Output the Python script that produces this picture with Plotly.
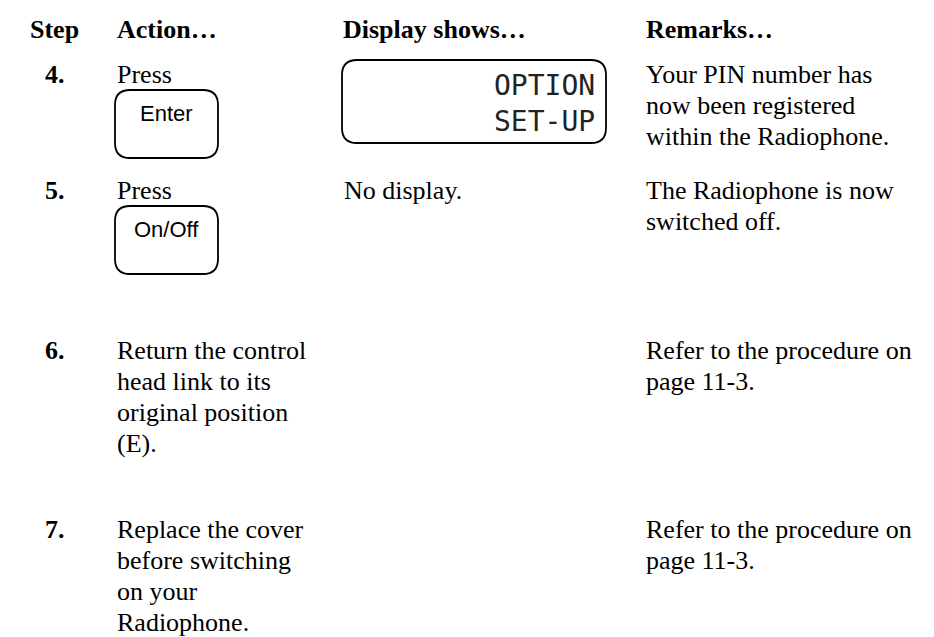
import plotly.graph_objects as go

W, H = 934, 637

# ---- content (data) ----
headers = ["Step", "Action\u2026", "Display shows\u2026", "Remarks\u2026"]
steps = ["4.", "5.", "6.", "7."]
actions = [
    ["Press"],
    ["Press"],
    ["Return the control", "head link to its", "original position", "(E)."],
    ["Replace the cover", "before switching", "on your", "Radiophone."],
]
buttons = ["Enter", "On/Off", None, None]
display_lcd = [["OPTION", "SET-UP"], None, None, None]
display_text = [None, ["No display."], None, None]
remarks = [
    ["Your PIN number has", "now been registered", "within the Radiophone."],
    ["The Radiophone is now", "switched off."],
    ["Refer to the procedure on", "page 11-3."],
    ["Refer to the procedure on", "page 11-3."],
]

# ---- layout constants ----
header_x = [20, 107, 333, 636]
col_x = [35, 107, 334, 636]
header_y = 21
row_y = [66, 182, 342, 521]
line_gap = 31.2
serif = "Liberation Serif, Times New Roman, serif"
sans = "Liberation Sans, Arial, sans-serif"
mono = "DejaVu Sans Mono, monospace"
fs = 26

fig = go.Figure()
ann = []
shapes = []


def rrect(x0, y0, x1, y1, r):
    return (f"M {x0+r},{y0} L {x1-r},{y0} Q {x1},{y0} {x1},{y0+r} "
            f"L {x1},{y1-r} Q {x1},{y1} {x1-r},{y1} L {x0+r},{y1} "
            f"Q {x0},{y1} {x0},{y1-r} L {x0},{y0+r} Q {x0},{y0} {x0+r},{y0} Z")


for hx, h in zip(header_x, headers):
    ann.append(dict(x=hx, y=header_y, text=f"<b>{h}</b>", xanchor="left", yanchor="middle",
                    font=dict(family=serif, size=fs, color="#000")))

for i, ry in enumerate(row_y):
    ann.append(dict(x=col_x[0], y=ry, text=f"<b>{steps[i]}</b>", xanchor="left", yanchor="middle",
                    font=dict(family=serif, size=fs, color="#000")))
    for k, line in enumerate(actions[i]):
        ann.append(dict(x=col_x[1], y=ry + k * line_gap, text=line, xanchor="left", yanchor="middle",
                        font=dict(family=serif, size=fs, color="#000")))
    for k, line in enumerate(remarks[i]):
        ann.append(dict(x=col_x[3], y=ry + k * line_gap, text=line, xanchor="left", yanchor="middle",
                        font=dict(family=serif, size=fs, color="#000")))
    if display_text[i]:
        for k, line in enumerate(display_text[i]):
            ann.append(dict(x=col_x[2], y=ry + k * line_gap, text=line, xanchor="left", yanchor="middle",
                            font=dict(family=serif, size=fs, color="#000")))
    if buttons[i]:
        bx0, bx1 = 107, 210
        by0, by1 = ry + 16, ry + 84
        shapes.append(dict(type="path", path=rrect(bx0, by0, bx1, by1, 15),
                           line=dict(color="#000", width=1.8), xref="x", yref="y"))
        ann.append(dict(x=(bx0 + bx1) / 2, y=by0 + 23, text=buttons[i], xanchor="center", yanchor="middle",
                        font=dict(family=sans, size=22, color="#000")))
    if display_lcd[i]:
        dx0, dx1 = 334, 598
        dy0, dy1 = ry - 14, ry + 69
        shapes.append(dict(type="path", path=rrect(dx0, dy0, dx1, dy1, 15),
                           line=dict(color="#000", width=1.8), xref="x", yref="y"))
        for k, line in enumerate(display_lcd[i]):
            ann.append(dict(x=dx1 - 9, y=ry + 11 + k * 36, text=line, xanchor="right", yanchor="middle",
                            font=dict(family=mono, size=28, color="#222")))

for a in ann:
    a.update(showarrow=False, xref="x", yref="y")

fig.update_layout(
    width=W, height=H,
    margin=dict(l=0, r=0, t=0, b=0),
    paper_bgcolor="white", plot_bgcolor="white",
    xaxis=dict(range=[0, W], visible=False, fixedrange=True),
    yaxis=dict(range=[H, 0], visible=False, fixedrange=True),
    annotations=ann, shapes=shapes, showlegend=False,
)
fig.write_html("out.html")
